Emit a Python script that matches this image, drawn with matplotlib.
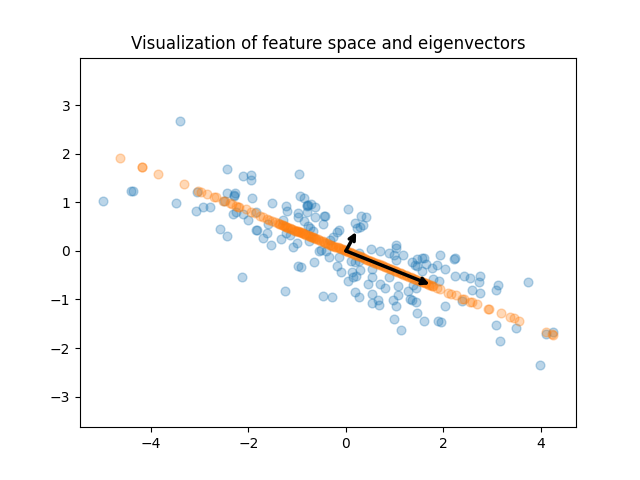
import matplotlib
matplotlib.use('Agg')
import matplotlib.pyplot as plt

# original feature space
x_orig = [-3.40, -4.98, -4.40, -4.36, -3.48, -3.07, -2.93, -2.78, -3.05, -2.43, -2.11, -1.95, -1.95,
          -2.43, -2.27, -2.30, -2.29, -1.92, -2.50, -2.31, -2.26, -2.11, -2.00, -1.85, -2.59, -2.45,
          -1.85, -1.83, -2.13, -0.96, -0.94, -0.86, -1.51, -1.22, -1.20, -0.79, -0.77, -0.79, -0.72,
          -0.64, -0.79, -0.99, -0.99, -0.86, -0.64, -0.44, -0.42, -0.48, -0.77, -0.74, -0.67, -1.29,
          -1.59, -1.61, -1.70, -1.53, -1.33, -1.23, -1.15, -1.01, -1.08, -0.75, -0.98, -0.92, -0.65,
          -1.24, -0.48, -0.28, -0.55, -0.51, -0.40, -0.34, -0.14, -0.18, -0.11, 0.05, 0.12, 0.14,
          0.21, 0.29, 0.10, 0.18, 0.27, 0.05, 0.31, 0.42, 0.19, 0.36, 0.23, 0.29, -0.14, -0.18,
          -0.26, -0.33, 0.51, 0.70, 0.89, 1.03, 1.03, 0.98, 1.03, 0.27, 0.53, 0.53, 0.46, 0.70,
          0.81, 0.88, 1.07, 0.18, 0.27, 0.53, 0.66, 0.53, 0.68, 0.97, 1.07, 1.03, 1.18, 1.36, 1.45,
          1.57, 1.61, 1.42, 1.45, 1.65, 1.57, 1.77, 1.87, 1.93, 2.22, 2.24, 2.04, 2.23, 2.43, 2.55,
          2.75, 2.73, 3.12, 3.08, 3.74, 2.58, 2.75, 1.91, 1.79, 1.28, 1.44, 1.38, 1.31, 1.35, 1.43,
          1.45, 0.99, 1.13, 1.61, 1.89, 1.96, 2.04, 2.39, 3.08, 3.17, 3.49, 3.99, 4.10, 4.25]
y_orig = [2.67, 1.02, 1.23, 1.23, 0.98, 0.83, 0.90, 0.90, 1.21, 1.68, 1.54, 1.56, 1.46,
          1.19, 1.19, 1.13, 1.15, 1.09, 1.02, 0.76, 0.81, 0.76, 0.63, 0.80, 0.45, 0.30,
          0.43, 0.43, -0.54, 1.59, 1.13, 1.09, 0.98, 0.93, 0.82, 0.95, 0.95, 0.92, 0.97,
          0.91, 0.80, 0.78, 0.69, 0.62, 0.69, 0.72, 0.72, 0.55, 0.52, 0.47, 0.42, 0.64,
          0.55, 0.37, 0.27, 0.12, 0.25, 0.37, 0.33, 0.17, 0.08, 0.21, -0.32, -0.34, -0.23,
          -0.83, -0.93, -0.95, 0.00, 0.01, -0.01, -0.13, -0.13, -0.31, -0.44, -0.63, -0.43, -0.54,
          -0.52, -0.39, -0.21, -0.22, -0.21, 0.86, 0.72, 0.69, 0.57, 0.54, 0.47, 0.50, 0.43, 0.38,
          0.29, 0.23, 0.04, -0.01, -0.04, 0.12, 0.06, -0.08, -0.19, -0.05, -0.38, -0.53, -0.69, -0.69,
          -0.77, -0.53, -0.72, -0.85, -0.95, -0.89, -1.01, -1.08, -1.11, -1.01, -0.91, -1.13, -0.08, -0.22, -0.16,
          -0.15, -0.15, -0.29, -0.32, -0.27, -0.41, -0.36, -0.29, -0.09, -0.16, -0.15, -0.38, -0.52, -0.52, -0.56,
          -0.52, -0.65, -0.71, -0.81, -0.65, -0.81, -0.87, -0.62, -0.58, -0.82, -0.76, -0.70, -0.99, -1.01, -1.06,
          -1.28, -1.40, -1.62, -1.44, -1.44, -1.47, -1.14, -1.03, -1.53, -1.86, -1.59, -2.34, -1.71, -1.68]

# points projected on the first component
x_proj = [-4.63, -4.19, -4.19, -3.85, -3.32, -3.03, -2.98, -2.85, -2.70, -2.67, -2.52, -2.48, -2.38, -2.34,
          -2.26, -2.22, -2.19, -2.06, -1.95, -1.87, -1.76, -1.70, -1.62, -1.58, -1.51, -1.46, -1.40, -1.36,
          -1.32, -1.27, -1.24, -1.20, -1.18, -1.14, -1.10, -1.07, -1.04, -1.01, -0.98, -0.95, -0.92, -0.90,
          -0.88, -0.85, -0.82, -0.78, -0.74, -0.70, -0.66, -0.62, -0.55, -0.48, -0.42, -0.36, -0.30, -0.26,
          -0.20, -0.15, -0.10, -0.05, 0.00, 0.05, 0.10, 0.16, 0.22, 0.28, 0.33, 0.40, 0.46, 0.52, 0.58, 0.63,
          0.70, 0.76, 0.80, 0.86, 0.90, 0.96, 1.00, 1.05, 1.10, 1.15, 1.20, 1.25, 1.30, 1.36, 1.42, 1.50,
          1.56, 1.62, 1.68, 1.74, 1.79, 1.87, 1.93, 2.10, 2.15, 2.26, 2.39, 2.42, 2.54, 2.58, 2.68, 2.92,
          2.93, 3.19, 3.37, 3.44, 3.56, 4.10, 4.23, 4.24,
          -1.38, -1.30, -1.22, -1.12, -1.02, -0.96, -0.86, -0.76,
          -0.72, -0.68, -0.64, -0.58, -0.52, -0.45, -0.39, -0.33, -0.28, -0.23, -0.17, -0.12, -0.07, -0.02,
          0.03, 0.08, 0.13, 0.19, 0.25, 0.31, 0.37, 0.43, 0.49, 0.55, 0.61, 0.67, 0.73, 0.83, 0.93, 1.03,
          1.13, 1.23, 1.33, 1.39, 1.46, 1.53, 1.59, 1.65, 1.71, 1.77]
y_proj = [1.91, 1.73, 1.73, 1.59, 1.38, 1.24, 1.22, 1.17, 1.11, 1.10, 1.03, 1.02, 0.98, 0.97,
          0.93, 0.91, 0.90, 0.86, 0.81, 0.79, 0.72, 0.69, 0.66, 0.64, 0.62, 0.60, 0.57, 0.55,
          0.54, 0.52, 0.51, 0.49, 0.48, 0.47, 0.45, 0.44, 0.42, 0.41, 0.40, 0.39, 0.38, 0.37,
          0.36, 0.35, 0.33, 0.32, 0.30, 0.29, 0.27, 0.25, 0.22, 0.20, 0.17, 0.15, 0.12, 0.11,
          0.08, 0.06, 0.04, 0.02, 0.00, -0.02, -0.04, -0.07, -0.09, -0.11, -0.13, -0.16, -0.19, -0.21, -0.24, -0.26,
          -0.29, -0.31, -0.33, -0.35, -0.37, -0.39, -0.41, -0.43, -0.45, -0.47, -0.49, -0.51, -0.53, -0.55, -0.58, -0.61,
          -0.64, -0.66, -0.69, -0.71, -0.72, -0.77, -0.79, -0.86, -0.88, -0.91, -0.99, -1.00, -1.05, -1.05, -1.09, -1.19,
          -1.20, -1.28, -1.37, -1.39, -1.45, -1.68, -1.72, -1.73,
          0.56, 0.53, 0.50, 0.46, 0.42, 0.39, 0.35, 0.31,
          0.29, 0.28, 0.26, 0.24, 0.21, 0.18, 0.16, 0.13, 0.11, 0.09, 0.07, 0.05, 0.03, 0.01,
          -0.01, -0.03, -0.05, -0.08, -0.10, -0.13, -0.15, -0.18, -0.20, -0.22, -0.25, -0.27, -0.30, -0.34, -0.38, -0.42,
          -0.46, -0.50, -0.54, -0.57, -0.60, -0.62, -0.65, -0.67, -0.70, -0.72]

# eigenvectors
origin = (0, 0)
eigvec_1 = (1.72, -0.69)
eigvec_2 = (0.21, 0.39)

fig, ax = plt.subplots()
ax.scatter(x_orig, y_orig, s=40, alpha=0.3)
ax.scatter(x_proj, y_proj, s=40, alpha=0.3)

for vec in (eigvec_1, eigvec_2):
    ax.annotate('', xy=vec, xytext=origin,
                arrowprops=dict(arrowstyle='->', linewidth=2.5, color='black', shrinkA=0, shrinkB=0))

ax.set_xlim(-5.456, 4.72)
ax.set_ylim(-3.63, 3.98)
ax.set_xticks([-4, -2, 0, 2, 4])
ax.set_yticks([-3, -2, -1, 0, 1, 2, 3])
ax.set_title('Visualization of feature space and eigenvectors')

plt.savefig('out.png')
